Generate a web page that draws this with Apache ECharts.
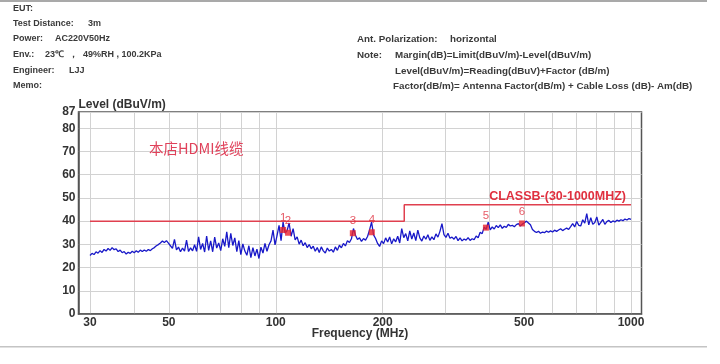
<!DOCTYPE html>
<html><head><meta charset="utf-8">
<script src="https://cdn.jsdelivr.net/npm/echarts@6/dist/echarts.min.js"></script>
<style>html,body{margin:0;padding:0;background:#fff}#c{width:720px;height:364px}</style>
</head><body><div id="c"></div>
<script>
// ---- data ----
const sweepStartMHz = 30, sweepEndMHz = 1000;
const levels = [
25.2,26.1,25.6,26.8,26.2,27.3,26.5,27.8,27.1,28.2,
27.4,28.6,27.7,28.1,26.9,27.5,26.4,26.9,25.8,26.6,
26.1,27.0,26.4,27.2,26.6,27.5,26.9,27.6,27.0,27.8,
27.3,28.1,28.6,29.4,29.9,30.6,31.4,30.8,31.6,30.5,
29.4,28.3,32.1,27.6,28.8,26.8,28.4,27.1,31.8,26.9,
28.5,27.2,29.8,27.0,33.2,27.8,30.4,26.7,33.6,27.4,
31.5,26.8,33.1,28.4,30.6,27.3,32.4,29.1,35.4,28.6,
34.7,29.5,32.8,26.9,31.6,25.6,30.2,27.1,25.3,29.4,
24.3,28.6,25.0,27.9,23.9,28.8,26.2,30.4,27.0,29.8,
31.5,36.1,29.8,33.8,38.2,31.6,39.6,34.8,35.9,39.2,
33.5,36.8,31.9,33.2,30.1,31.8,29.4,30.7,28.6,29.9,
28.1,29.2,27.0,28.6,26.5,28.9,27.2,26.3,28.4,27.1,
27.8,26.6,28.9,27.4,29.6,28.5,30.4,29.3,31.6,30.8,
32.4,36.8,33.9,32.1,32.8,31.3,32.5,31.8,33.4,36.2,
39.6,34.1,32.5,30.4,29.1,31.5,30.3,32.8,31.0,33.2,
30.2,32.4,31.1,33.5,30.6,36.8,32.9,34.6,31.5,35.8,
32.3,34.9,31.6,36.1,32.8,31.4,33.6,32.2,34.1,31.7,
33.2,32.0,34.5,33.1,35.6,38.9,34.2,33.0,34.8,32.6,
33.1,32.2,33.4,31.6,32.8,31.5,32.3,31.8,32.9,31.7,
32.4,32.0,33.6,32.8,35.2,34.6,37.4,36.5,39.6,36.2,
37.5,36.6,38.1,37.2,38.4,36.9,37.8,37.3,38.6,37.9,
38.2,37.6,38.5,38.9,37.9,38.7,39.3,40.0,39.2,38.4,
36.4,35.6,35.1,35.6,34.8,35.3,35.0,35.7,35.2,35.8,
35.3,36.1,35.6,36.2,36.7,35.9,36.5,37.0,36.4,37.6,
38.9,37.5,39.8,38.2,37.9,40.6,39.1,43.2,38.4,41.5,
38.6,39.4,41.8,38.3,39.5,40.7,38.6,39.8,40.3,39.4,
40.1,39.6,40.4,40.0,40.6,40.2,40.9,40.5,41.1,40.8
];
const limitFreq = [30, 230, 230, 1000];
const limitLevel = [40, 40, 47, 47];
const limitName = 'CLASSB-(30-1000MHZ)';
const markerNames = ['1','2','3','4','5','6'];
const markerFreq = [104.9, 108.3, 164.8, 186.4, 390.5, 493];
const markerLevel = [36.2, 35.0, 34.8, 35.2, 37.2, 39.0];
const xLabelValues = [30, 50, 100, 200, 500, 1000];
const xGridValues = [30,40,50,60,70,80,90,100,200,300,400,500,600,700,800,900,1000];
const yMin = 0, yMax = 87, yStep = 10;
const titleText = '本店HDMI线缆';
const headerLeft = [
  ['EUT:', ''],
  ['Test Distance:', '3m'],
  ['Power:', 'AC220V50Hz'],
  ['Env.:', '23℃  ，  49%RH , 100.2KPa'],
  ['Engineer:', 'LJJ'],
  ['Memo:', '']
];
const headerRight = [
  ['', ''], ['', ''],
  ['Ant. Polarization:', 'horizontal'],
  ['Note:', 'Margin(dB)=Limit(dBuV/m)-Level(dBuV/m)'],
  ['', 'Level(dBuV/m)=Reading(dBuV)+Factor (dB/m)'],
  ['', 'Factor(dB/m)= Antenna Factor(dB/m) + Cable Loss (dB)- Am(dB)']
];

// ---- build ----
const L = Math.log10;
const n = levels.length;
const traceData = levels.map((v, i) => {
  const lf = L(sweepStartMHz) + (L(sweepEndMHz) - L(sweepStartMHz)) * i / (n - 1);
  return [lf, v];
});
const limitData = limitFreq.map((f, i) => [L(f), limitLevel[i]]);
const markerData = markerFreq.map((f, i) => ({ value: [L(f), markerLevel[i]], name: markerNames[i] }));

const hdrFont = 'bold 9px "Liberation Sans", Arial, sans-serif';
const hdrFontR = 'bold 9.8px "Liberation Sans", Arial, sans-serif';
const leftValX = [0, 88, 55, 45, 69, 0];
const rowY = [9, 24, 39, 55, 71, 86];
const graphics = [
  { type: 'rect', shape: { x: 0, y: 0, width: 707, height: 2 }, style: { fill: '#a9a9a9' } },
  { type: 'rect', shape: { x: 0, y: 346, width: 707, height: 1.5 }, style: { fill: '#c4c4c4' } }
];
headerLeft.forEach((r, i) => {
  graphics.push({ type: 'text', left: 13, top: rowY[i] - 5, style: { text: r[0], font: hdrFont, fill: '#3a3a3a' } });
  if (r[1]) graphics.push({ type: 'text', left: leftValX[i], top: rowY[i] - 5, style: { text: r[1], font: hdrFont, fill: '#3a3a3a' } });
});
headerRight.forEach((r, i) => {
  if (r[0]) graphics.push({ type: 'text', left: 357, top: rowY[i] - 5, style: { text: r[0], font: hdrFontR, fill: '#3a3a3a' } });
  if (r[1]) graphics.push({ type: 'text', left: i === 2 ? 450 : (i === 5 ? 393 : 395), top: rowY[i] - 5, style: { text: r[1], font: hdrFontR, fill: '#3a3a3a' } });
});

const axisFont = '"Liberation Sans", Arial';
const chart = echarts.init(document.getElementById('c'), null, { renderer: 'canvas' });
chart.setOption({
  animation: false,
  backgroundColor: '#fff',
  title: {
    text: titleText, left: 144, top: 136,
    textStyle: { color: '#e0415a', fontSize: 14.5, fontWeight: 'normal', fontFamily: '"Noto Sans CJK SC", sans-serif' }
  },
  grid: { left: 78.5, right: 78.5, top: 112, bottom: 50, show: true, borderColor: '#555', borderWidth: 1.5, backgroundColor: 'transparent' },
  xAxis: {
    type: 'value',
    min: L(30) - 11.5 / 355.2,
    max: 3 + 10.5 / 355.2,
    name: 'Frequency (MHz)', nameLocation: 'middle', nameGap: 20, nameMoveOverlap: false,
    nameTextStyle: { fontWeight: 'bold', fontSize: 12, color: '#333', fontFamily: axisFont, verticalAlign: 'middle', padding: 0 },
    axisLine: { show: true, lineStyle: { color: '#555', width: 1.5 } },
    axisTick: { show: false, customValues: xGridValues.map(L) },
    axisLabel: {
      customValues: xLabelValues.map(L), margin: 3,
      formatter: v => String(Math.round(Math.pow(10, v))),
      fontWeight: 'bold', fontSize: 12, color: '#333', fontFamily: axisFont
    },
    splitLine: { show: true, lineStyle: { color: '#d2d2d2', width: 1 } }
  },
  yAxis: {
    type: 'value', min: yMin, max: yMax, interval: yStep,
    name: 'Level (dBuV/m)', nameLocation: 'end', nameGap: 1, nameMoveOverlap: false,
    nameTextStyle: { align: 'left', fontWeight: 'bold', fontSize: 12, color: '#333', fontFamily: axisFont },
    axisLine: { show: true, lineStyle: { color: '#555', width: 1.5 } },
    axisTick: { show: false },
    axisLabel: { margin: 3, fontWeight: 'bold', fontSize: 12, color: '#333', fontFamily: axisFont },
    splitLine: { show: true, lineStyle: { color: '#d2d2d2', width: 1 } }
  },
  graphic: graphics,
  series: [
    {
      type: 'line', data: traceData, symbol: 'none', z: 3,
      lineStyle: { color: '#1818c8', width: 1.3 }, itemStyle: { color: '#1818c8' }
    },
    {
      type: 'line', data: limitData, symbol: 'none', z: 2,
      lineStyle: { color: '#e0404f', width: 1.5 },
      markPoint: {
        symbol: 'circle', symbolSize: 0,
        data: [{ coord: [L(limitFreq[3]), limitLevel[3]] }],
        label: {
          show: true, formatter: limitName, position: [-5, -2], align: 'right', verticalAlign: 'bottom',
          color: '#e0303f', fontWeight: 'bold', fontSize: 12.5, fontFamily: axisFont
        }
      }
    },
    {
      type: 'scatter', data: markerData, symbol: 'rect', symbolSize: 6, z: 5,
      itemStyle: { color: '#e8202c' },
      label: { show: true, position: 'top', distance: 3, formatter: p => p.name, color: '#e0303f', fontSize: 11.5, fontFamily: axisFont }
    }
  ]
});
</script></body></html>
